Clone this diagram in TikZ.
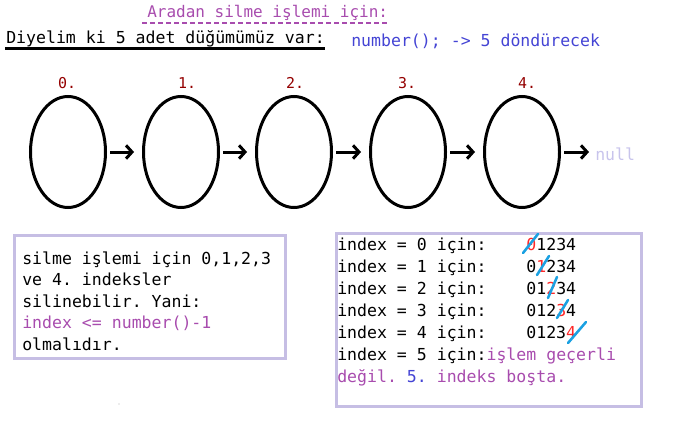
\documentclass[tikz,border=0pt]{standalone}
\usepackage{fontspec}
\setmainfont{DejaVu Sans Mono}
\usetikzlibrary{shapes.geometric,arrows.meta}
\definecolor{mor}{HTML}{A84CAE}
\definecolor{mavi}{HTML}{4444D4}
\definecolor{koyukirmizi}{HTML}{940000}
\definecolor{kirmizi}{HTML}{FF2828}
\definecolor{lila}{HTML}{C6BEE4}
\definecolor{soluk}{HTML}{C8C4EC}
\definecolor{cizik}{HTML}{1BA1E2}
\tikzset{
  yazi/.style={font=\fontsize{12.4}{16}\selectfont, inner sep=0pt, anchor=base west},
  dugum/.style={ellipse, draw, line width=2.25pt, inner sep=0pt, outer sep=0pt,
    minimum width=56.25pt, minimum height=83.25pt},
  sira/.style={yazi, anchor=base, koyukirmizi, font=\fontsize{11.2}{14}\selectfont},
  ok/.style={line width=2.25pt, shorten <=3.4pt, shorten >=7.1pt,
    -{Straight Barb[length=4.5pt,width=10pt]}},
  kutu/.style={lila, line width=2.25pt},
  cizgi/.style={cizik, line width=1.9pt, line cap=round}
}
\frenchspacing
\begin{document}
\begin{tikzpicture}[x=0.75pt,y=-0.75pt]
\useasboundingbox (0,0) rectangle (680,431);
% basliklar
\node[yazi, mor, font=\fontsize{12}{16}\selectfont] (baslik) at (147,18) {Aradan silme işlemi için:};
\draw[mor, line width=1.1pt, dash pattern=on 3.75pt off 2.25pt] (142,23) -- (388,23);
\node[yazi] (giris) at (6,44) {Diyelim ki 5 adet düğümümüz var:};
\draw[line width=2.25pt] (5,49) -- (325,49);
\node[yazi, mavi] (sayi) at (351,47) {number(); -> 5 döndürecek};
% dugumler
\foreach \i/\x/\lx in {0/68/67,1/181/187,2/294/295,3/408/407,4/522/527}{
  \node[dugum] (d\i) at (\x,152) {};
  \node[sira] (s\i) at (\lx,89) {\i.};
}
\foreach \i [evaluate=\i as \j using int(\i+1)] in {0,...,3}
  \draw[ok] (d\i) -- (d\j);
\node[yazi, soluk] (nl) at (595,160) {null};
\draw[ok, shorten >=4.5pt] (d4.east) -- (d4.east -| nl.west);
% sol kutu
\draw[kutu] (14.5,235.5) rectangle (285.5,358.5);
\foreach \t [count=\i] in {{silme işlemi için 0,1,2,3},{ve 4. indeksler},
    {silinebilir. Yani:},{\color{mor}index <= number()-1},{olmalıdır.}}
  \node[yazi] (l\i) at (22,{264+21.5*(\i-1)}) {\t};
% sag kutu
\draw[kutu] (336.5,233.5) rectangle (641.5,406.5);
\foreach \t [count=\i] in {
    {index = 0 için:\ \ \ \ \textcolor{kirmizi}{0}1234},
    {index = 1 için:\ \ \ \ 0\textcolor{kirmizi}{1}234},
    {index = 2 için:\ \ \ \ 01\textcolor{kirmizi}{2}34},
    {index = 3 için:\ \ \ \ 012\textcolor{kirmizi}{3}4},
    {index = 4 için:\ \ \ \ 0123\textcolor{kirmizi}{4}},
    {index = 5 için:\textcolor{mor}{işlem geçerli}},
    {\color{mor}değil. \textcolor{mavi}{5.} indeks boşta.}}
  \node[yazi] (r\i) at (337,{250+22*(\i-1)}) {\t};
\draw[cizgi] (523,253) -- (538,234);
\draw[cizgi] (537,275) -- (549,256);
\draw[cizgi] (548,298) -- (557,277);
\draw[cizgi] (557,318) -- (568,300);
\draw[cizgi] (568,343) -- (586,322);
\fill[gray!60] (119,404) circle (0.5pt);
\end{tikzpicture}
\end{document}
